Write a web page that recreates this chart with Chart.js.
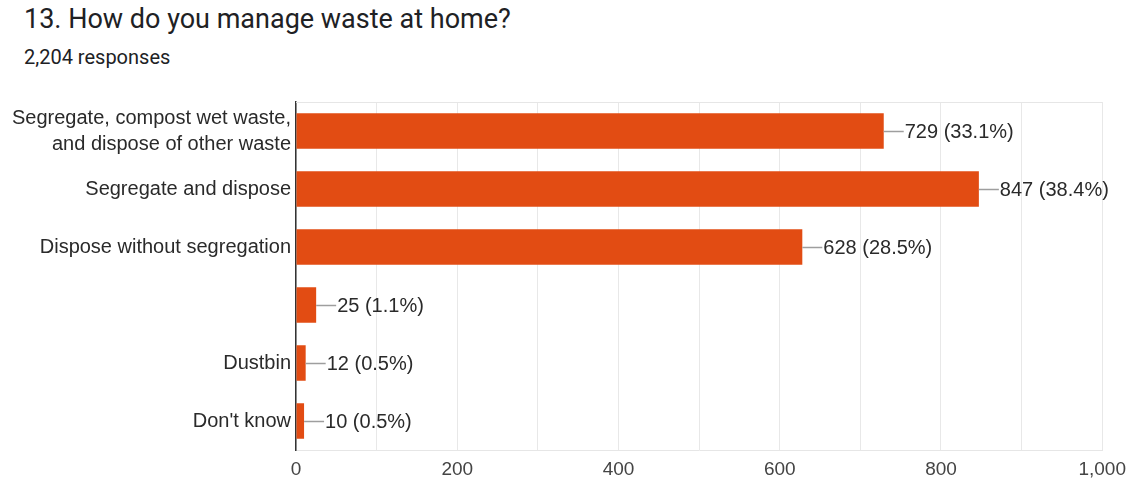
<!DOCTYPE html>
<html>
<head>
<meta charset="utf-8">
<script src="https://cdn.jsdelivr.net/npm/chart.js@4.4.1/dist/chart.umd.min.js"></script>
<style>
  html, body { margin: 0; padding: 0; background: #fff; }
  body { width: 1134px; height: 485px; position: relative; overflow: hidden; font-family: Roboto, "Noto Sans", sans-serif; }
  #title { position: absolute; left: 24px; top: 3px; font-size: 27px; color: #202124; white-space: nowrap; }
  #subtitle { position: absolute; left: 24px; top: 45px; font-size: 20px; color: #202124; white-space: nowrap; }
  #wrap { position: absolute; left: 0; top: 0; width: 1134px; height: 485px; }
</style>
</head>
<body>
<div id="title">13. How do you manage waste at home?</div>
<div id="subtitle">2,204 responses</div>
<div id="wrap"><canvas id="chart" width="1134" height="485"></canvas></div>
<script>
const categories = [
  ["Segregate, compost wet waste,", "and dispose of other waste"],
  "Segregate and dispose",
  "Dispose without segregation",
  "",
  "Dustbin",
  "Don't know"
];
const counts = [729, 847, 628, 25, 12, 10];
const percents = ["33.1%", "38.4%", "28.5%", "1.1%", "0.5%", "0.5%"];
const xTicks = [0, 200, 400, 600, 800, 1000];

const chartFont = "Arial, 'Liberation Sans', sans-serif";

// leader lines + value labels, plus the light top border of the plot
const valueLabels = {
  id: "valueLabels",
  beforeDatasetsDraw(chart) {
    const { ctx, chartArea } = chart;
    ctx.save();
    ctx.strokeStyle = "#e6e6e6";
    ctx.lineWidth = 1;
    ctx.beginPath();
    ctx.moveTo(chartArea.left, chartArea.top + 0.5);
    ctx.lineTo(chartArea.right, chartArea.top + 0.5);
    ctx.stroke();
    ctx.restore();
  },
  afterDatasetsDraw(chart) {
    const { ctx } = chart;
    const meta = chart.getDatasetMeta(0);
    ctx.save();
    ctx.font = "20px " + chartFont;
    ctx.textBaseline = "middle";
    ctx.textAlign = "left";
    meta.data.forEach((bar, i) => {
      const x = bar.x;
      const y = Math.round(bar.y) + 0.5;
      ctx.strokeStyle = "#9e9e9e";
      ctx.lineWidth = 1.5;
      ctx.beginPath();
      ctx.moveTo(x, y);
      ctx.lineTo(x + 20, y);
      ctx.stroke();
      ctx.fillStyle = "#2a2a2a";
      ctx.fillText(counts[i] + " (" + percents[i] + ")", x + 21, y + 1);
    });
    ctx.restore();
  }
};

new Chart(document.getElementById("chart"), {
  type: "bar",
  data: {
    labels: categories,
    datasets: [{
      data: counts,
      backgroundColor: "#e24c13",
      borderWidth: 0,
      categoryPercentage: 1,
      barPercentage: 0.61
    }]
  },
  options: {
    indexAxis: "y",
    responsive: false,
    animation: false,
    layout: { padding: { top: 102, right: 29, left: 0, bottom: 0 } },
    plugins: {
      legend: { display: false },
      tooltip: { enabled: false }
    },
    scales: {
      x: {
        min: 0,
        max: 1000,
        afterFit: (scale) => { scale.height = 35; },
        ticks: {
          stepSize: 100,
          autoSkip: false,
          maxRotation: 0,
          padding: 8,
          color: "#444444",
          font: { family: chartFont, size: 19 },
          callback: (v) => xTicks.includes(v) ? v.toLocaleString("en-US") : ""
        },
        grid: { color: "#e8e8e8", lineWidth: 1, drawTicks: false },
        border: { color: "#e6e6e6", width: 1 }
      },
      y: {
        afterFit: (scale) => { scale.width = 296; },
        ticks: {
          padding: 5,
          color: "#2a2a2a",
          font: { family: chartFont, size: 20, lineHeight: 1.3 }
        },
        grid: { display: false, drawTicks: false },
        border: { color: "#333333", width: 1.5 }
      }
    }
  },
  plugins: [valueLabels]
});
</script>
</body>
</html>
